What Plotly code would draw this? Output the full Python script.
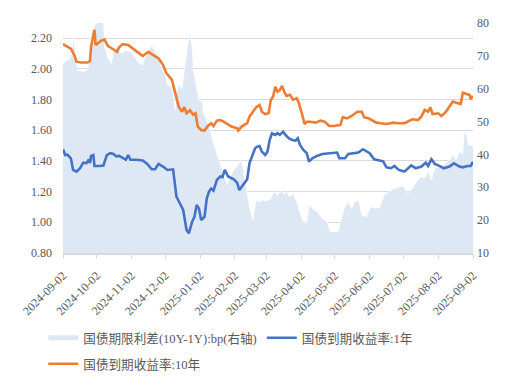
import pandas as pd
import plotly.graph_objects as go

START = "2024-09-02"
tick_labels = ["2024-09-02", "2024-10-02", "2024-11-02", "2024-12-02", "2025-01-02",
               "2025-02-02", "2025-03-02", "2025-04-02", "2025-05-02", "2025-06-02",
               "2025-07-02", "2025-08-02", "2025-09-02"]

# 10Y yield (day offset from START, value %)
y10_days = [0, 4, 7, 10, 12, 16, 22, 24, 25, 28, 29, 31, 34, 37, 40, 43, 46, 48, 50, 53,
            58, 62, 67, 71, 76, 80, 85, 89, 92, 97, 98, 100, 103, 106, 108, 110, 113, 116,
            118, 120, 123, 126, 129, 132, 134, 137, 140, 143, 146, 150, 155, 156, 159, 164,
            166, 169, 172, 175, 177, 180, 183, 185, 187, 189, 191, 193, 195, 197, 199, 202,
            205, 208, 210, 213, 215, 217, 220, 225, 229, 233, 237, 241, 247, 249, 253, 257,
            262, 266, 268, 272, 275, 279, 283, 288, 294, 298, 304, 307, 311, 316, 319, 322,
            325, 327, 329, 334, 337, 341, 344, 347, 350, 354, 356, 359, 362, 363, 365]
y10_vals = [2.16, 2.144, 2.13, 2.09, 2.046, 2.04, 2.04, 2.05, 2.144, 2.253, 2.155, 2.165,
            2.183, 2.19, 2.148, 2.135, 2.118, 2.11, 2.14, 2.16, 2.155, 2.13, 2.105, 2.083,
            2.11, 2.09, 2.068, 2.025, 1.971, 1.927, 1.9, 1.829, 1.753, 1.72, 1.75, 1.71, 1.73,
            1.70, 1.71, 1.623, 1.601, 1.597, 1.627, 1.645, 1.627, 1.662, 1.666, 1.655, 1.64,
            1.623, 1.612, 1.597, 1.623, 1.645, 1.688, 1.72, 1.749, 1.764, 1.72, 1.705, 1.71,
            1.797, 1.818, 1.883, 1.85, 1.86, 1.888, 1.85, 1.823, 1.83, 1.797, 1.808, 1.775,
            1.699, 1.64, 1.655, 1.655, 1.649, 1.662, 1.655, 1.627, 1.627, 1.634, 1.684, 1.677,
            1.692, 1.72, 1.72, 1.684, 1.677, 1.666, 1.649, 1.645, 1.64, 1.649, 1.645, 1.645,
            1.655, 1.671, 1.666, 1.688, 1.732, 1.72, 1.749, 1.705, 1.71, 1.692, 1.72, 1.749,
            1.786, 1.779, 1.77, 1.844, 1.835, 1.829, 1.801, 1.823]

# 1Y yield
y1_days = [0, 2, 4, 7, 9, 12, 15, 18, 21, 23, 24, 25, 27, 28, 33, 36, 39, 42, 45, 47, 50,
           53, 56, 58, 60, 65, 71, 75, 79, 82, 85, 89, 93, 98, 101, 104, 107, 109, 110, 112,
           115, 117, 119, 121, 123, 126, 128, 130, 132, 134, 137, 140, 142, 144, 147, 152,
           155, 157, 161, 164, 166, 168, 171, 173, 175, 177, 180, 182, 184, 186, 189, 191,
           193, 196, 198, 201, 204, 207, 209, 211, 214, 217, 219, 222, 226, 231, 237, 244,
           246, 251, 254, 259, 263, 267, 270, 273, 277, 282, 285, 288, 292, 295, 299, 304,
           307, 310, 314, 319, 323, 325, 328, 331, 335, 339, 344, 348, 353, 356, 360, 363, 365]
y1_vals = [1.476, 1.438, 1.44, 1.417, 1.341, 1.33, 1.35, 1.388, 1.385, 1.41, 1.385, 1.432,
           1.438, 1.367, 1.367, 1.37, 1.438, 1.45, 1.445, 1.43, 1.432, 1.417, 1.407, 1.438,
           1.407, 1.407, 1.403, 1.38, 1.345, 1.345, 1.38, 1.363, 1.341, 1.345, 1.167, 1.124,
           1.08, 0.993, 0.95, 0.928, 1.004, 1.036, 1.113, 1.09, 1.015, 1.036, 1.156, 1.2,
           1.22, 1.206, 1.276, 1.298, 1.294, 1.341, 1.298, 1.28, 1.258, 1.21, 1.254, 1.28,
           1.384, 1.428, 1.482, 1.493, 1.497, 1.46, 1.438, 1.46, 1.536, 1.58, 1.569, 1.58,
           1.569, 1.59, 1.569, 1.547, 1.536, 1.532, 1.547, 1.504, 1.471, 1.45, 1.395, 1.417,
           1.432, 1.445, 1.45, 1.454, 1.417, 1.417, 1.445, 1.45, 1.454, 1.476, 1.46, 1.45,
           1.41, 1.403, 1.397, 1.358, 1.352, 1.367, 1.341, 1.33, 1.352, 1.37, 1.352, 1.363,
           1.388, 1.367, 1.41, 1.38, 1.367, 1.352, 1.363, 1.384, 1.363, 1.358, 1.367, 1.367,
           1.395]

# Term spread 10Y-1Y (bp, right axis)
spread_days = [0, 6, 8, 9, 12, 13, 18, 22, 24, 25, 28, 33, 36, 37, 40, 43, 46, 49, 52, 56,
               60, 64, 68, 71, 74, 79, 81, 85, 88, 91, 93, 97, 100, 101, 103, 106, 107, 110,
               112, 113, 115, 116, 119, 121, 124, 125, 128, 131, 134, 137, 140, 143, 146,
               149, 152, 155, 158, 160, 163, 165, 166, 169, 170, 172, 175, 178, 181, 185,
               188, 191, 194, 197, 199, 202, 205, 208, 211, 214, 217, 219, 222, 226, 231,
               235, 238, 245, 248, 251, 254, 257, 260, 263, 266, 270, 274, 278, 282, 286,
               290, 296, 300, 303, 307, 310, 313, 316, 319, 322, 325, 328, 331, 334, 337,
               340, 344, 347, 350, 353, 356, 357, 359, 361, 364, 365]
spread_vals = [67.7, 69.2, 70.8, 76.3, 69.0, 65.7, 65.2, 65.7, 70.0, 75.9, 79.4, 80.5, 80.0,
               72.8, 69.2, 67.7, 72.3, 72.5, 70.8, 71.8, 71.2, 69.7, 67.7, 67.2, 70.5, 73.3,
               72.0, 69.7, 66.2, 64.2, 61.1, 60.6, 53.5, 59.1, 61.1, 60.1, 62.6, 70.8, 75.9,
               76.3, 72.8, 65.7, 60.6, 56.6, 56.0, 52.5, 50.5, 47.4, 43.4, 40.3, 37.3, 34.3,
               30.7, 33.2, 35.3, 36.3, 38.3, 36.3, 30.2, 26.1, 24.0, 20.0, 22.5, 26.1, 25.6,
               26.1, 25.8, 26.5, 28.7, 27.5, 29.2, 27.8, 28.7, 27.1, 28.2, 25.6, 22.1, 19.5,
               19.0, 24.6, 23.6, 22.6, 20.5, 19.5, 16.5, 16.5, 20.8, 24.1, 25.6, 23.6, 25.6,
               26.1, 21.5, 21.0, 24.1, 23.6, 23.9, 27.7, 28.7, 29.8, 30.2, 30.3, 28.2, 29.2,
               30.8, 32.2, 33.2, 32.8, 35.1, 32.2, 35.8, 36.0, 36.3, 37.0, 38.3, 39.8, 38.3,
               40.8, 40.3, 46.0, 46.5, 42.9, 42.6, 42.6]

left_ticks = [0.8, 1.0, 1.2, 1.4, 1.6, 1.8, 2.0, 2.2]
right_ticks = [10, 20, 30, 40, 50, 60, 70, 80]

names = ["国债期限利差(10Y-1Y):bp(右轴)", "国债到期收益率:1年", "国债到期收益率:10年"]
C_AREA, C_1Y, C_10Y = "#DEE8F4", "#4472C4", "#ED7D31"


def to_dates(days):
    return pd.Timestamp(START) + pd.to_timedelta(days, unit="D")


FONT = "Liberation Serif, Noto Sans CJK SC, serif"
GREY = "#595959"

fig = go.Figure()
fig.add_trace(go.Scatter(x=to_dates(spread_days), y=spread_vals, mode="lines",
                         fill="tozeroy", fillcolor=C_AREA,
                         line=dict(color="white", width=0.6),
                         yaxis="y", showlegend=False, hoverinfo="skip"))
fig.add_trace(go.Scatter(x=[None], y=[None], mode="lines", name=names[0],
                         line=dict(color=C_AREA, width=5), yaxis="y", legend="legend"))
fig.add_trace(go.Scatter(x=to_dates(y1_days), y=y1_vals, mode="lines", name=names[1],
                         line=dict(color=C_1Y, width=2.6), yaxis="y2", legend="legend"))
fig.add_trace(go.Scatter(x=to_dates(y10_days), y=y10_vals, mode="lines", name=names[2],
                         line=dict(color=C_10Y, width=2.6), yaxis="y2", legend="legend2"))

LEG_FONT = dict(family=FONT, size=12.6, color=GREY)
fig.update_layout(
    width=506, height=379,
    margin=dict(l=55, r=41, t=15, b=134, autoexpand=False),
    paper_bgcolor="white", plot_bgcolor="white",
    font=dict(family=FONT, size=12, color=GREY),
    xaxis=dict(type="date", range=[pd.Timestamp(START), pd.Timestamp("2025-09-02")],
               tickvals=tick_labels, ticktext=tick_labels, tickangle=-45,
               showgrid=False, showline=True, linecolor="#D9D9D9", linewidth=1.5,
               ticks="outside", ticklen=4, tickcolor="#D9D9D9", tickwidth=1.2,
               ticklabelstandoff=5, automargin=False,
               tickfont=dict(family=FONT, size=12, color=GREY)),
    yaxis=dict(side="right", range=[10, 80], tickvals=right_ticks,
               ticktext=[str(v) for v in right_ticks], showgrid=False, zeroline=False,
               showline=False, ticklabelstandoff=3, automargin=False,
               tickfont=dict(family=FONT, size=12, color=GREY)),
    yaxis2=dict(side="left", overlaying="y", range=[0.8, 2.2977], tickvals=left_ticks,
                ticktext=[f"{v:.2f}" for v in left_ticks], showgrid=True,
                gridcolor="#D9D9D9", gridwidth=1.3, zeroline=False, showline=False,
                ticklabelstandoff=10, automargin=False,
                tickfont=dict(family=FONT, size=12, color=GREY)),
    legend=dict(orientation="h", x=0.0698, xref="container", xanchor="left",
                y=0.1293, yref="container", yanchor="middle",
                font=LEG_FONT, bgcolor="rgba(0,0,0,0)", itemwidth=30),
    legend2=dict(orientation="h", x=0.0698, xref="container", xanchor="left",
                 y=0.0607, yref="container", yanchor="middle",
                 font=LEG_FONT, bgcolor="rgba(0,0,0,0)", itemwidth=30),
)

fig.write_html("out.html")
